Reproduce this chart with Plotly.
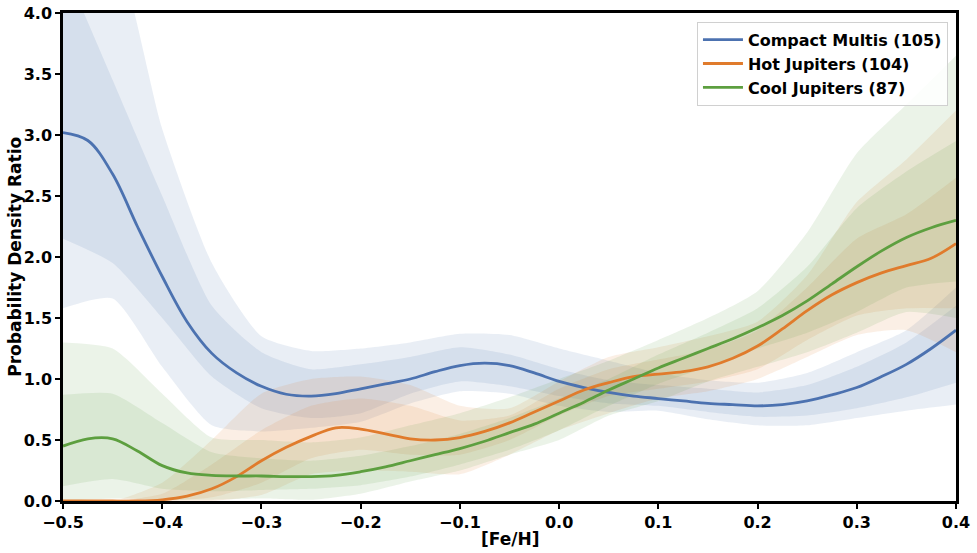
import plotly.graph_objects as go

# ---- data ----
x_line = [round(-0.5 + 0.025 * i, 3) for i in range(37)]
x_band = [round(-0.5 + 0.05 * i, 3) for i in range(19)]

series_names = ["Compact Multis (105)", "Hot Jupiters (104)", "Cool Jupiters (87)"]
series_colors = ["#4c72b0", "#e07b2c", "#5d9f3f"]
series_fills = ["rgba(76,114,176,0.12)", "rgba(224,123,44,0.12)", "rgba(93,159,63,0.12)"]

compact_line = [3.02, 2.955, 2.68, 2.25, 1.84, 1.47, 1.21, 1.05, 0.94, 0.875, 0.86, 0.88, 0.92,
                0.96, 1.00, 1.06, 1.11, 1.13, 1.11, 1.05, 0.98, 0.93, 0.89, 0.86, 0.84, 0.82,
                0.80, 0.79, 0.78, 0.79, 0.82, 0.87, 0.93, 1.02, 1.12, 1.25, 1.40]
hot_line = [0.0, 0.0, 0.0, 0.0, 0.01, 0.04, 0.10, 0.20, 0.33, 0.44, 0.53, 0.60, 0.59, 0.55,
            0.51, 0.50, 0.52, 0.57, 0.64, 0.73, 0.82, 0.91, 0.97, 1.02, 1.04, 1.06, 1.10,
            1.17, 1.27, 1.41, 1.56, 1.69, 1.79, 1.87, 1.93, 1.99, 2.11]
cool_line = [0.45, 0.51, 0.51, 0.41, 0.29, 0.23, 0.21, 0.205, 0.205, 0.20, 0.20, 0.21, 0.24,
             0.28, 0.33, 0.38, 0.43, 0.49, 0.56, 0.63, 0.72, 0.81, 0.91, 1.00, 1.09, 1.17,
             1.25, 1.33, 1.42, 1.52, 1.64, 1.78, 1.92, 2.05, 2.16, 2.24, 2.30]

compact_outer_up = [5.0, 4.6, 3.05, 1.95, 1.35, 1.23, 1.25, 1.30, 1.37, 1.36, 1.25, 1.15,
                    1.05, 0.99, 0.97, 1.05, 1.22, 1.40, 1.75]
compact_inner_up = [4.4, 3.45, 2.50, 1.60, 1.22, 1.08, 1.12, 1.18, 1.26, 1.20, 1.08, 0.99,
                    0.95, 0.92, 0.89, 0.95, 1.10, 1.30, 1.60]
compact_inner_lo = [2.15, 1.95, 1.50, 1.02, 0.76, 0.68, 0.72, 0.88, 0.98, 0.94, 0.86, 0.80,
                    0.78, 0.73, 0.69, 0.70, 0.76, 0.85, 0.97]
compact_outer_lo = [1.58, 1.66, 1.10, 0.62, 0.57, 0.60, 0.65, 0.80, 0.90, 0.88, 0.78, 0.73,
                    0.74, 0.67, 0.62, 0.62, 0.68, 0.74, 0.79]

hot_outer_up = [0.0, 0.0, 0.15, 0.50, 0.88, 1.00, 1.02, 0.95, 0.78, 0.76, 0.98, 1.18,
                1.26, 1.35, 1.47, 1.85, 2.45, 2.80, 3.20]
hot_inner_up = [0.0, 0.0, 0.06, 0.30, 0.58, 0.78, 0.84, 0.78, 0.66, 0.70, 0.92, 1.08,
                1.16, 1.24, 1.40, 1.75, 2.15, 2.35, 2.65]
hot_inner_lo = [0.0, 0.0, 0.0, 0.03, 0.15, 0.35, 0.42, 0.38, 0.38, 0.50, 0.70, 0.86,
                0.92, 0.98, 1.08, 1.32, 1.52, 1.58, 1.58]
hot_outer_lo = [0.0, 0.0, 0.0, 0.0, 0.05, 0.22, 0.25, 0.24, 0.22, 0.38, 0.58, 0.72,
                0.84, 0.90, 1.00, 1.18, 1.36, 1.40, 1.22]

cool_outer_up = [1.30, 1.25, 0.88, 0.52, 0.50, 0.48, 0.52, 0.62, 0.72, 0.85, 1.00, 1.15,
                 1.32, 1.50, 1.72, 2.20, 2.85, 3.25, 3.65]
cool_inner_up = [0.87, 0.88, 0.64, 0.40, 0.35, 0.33, 0.37, 0.45, 0.55, 0.68, 0.84, 1.00,
                 1.20, 1.38, 1.58, 1.92, 2.40, 2.70, 2.95]
cool_inner_lo = [0.12, 0.18, 0.10, 0.08, 0.09, 0.10, 0.13, 0.20, 0.30, 0.42, 0.58, 0.78,
                 0.96, 1.10, 1.25, 1.38, 1.55, 1.75, 1.80]
cool_outer_lo = [0.0, 0.02, 0.01, 0.01, 0.02, 0.01, 0.06, 0.16, 0.25, 0.38, 0.50, 0.70,
                 0.82, 0.98, 1.10, 1.22, 1.38, 1.55, 1.50]

x_tickvals = [-0.5, -0.4, -0.3, -0.2, -0.1, 0.0, 0.1, 0.2, 0.3, 0.4]
x_ticktext = ["\u22120.5", "\u22120.4", "\u22120.3", "\u22120.2", "\u22120.1",
              "0.0", "0.1", "0.2", "0.3", "0.4"]
y_tickvals = [0.0, 0.5, 1.0, 1.5, 2.0, 2.5, 3.0, 3.5, 4.0]
y_ticktext = ["0.0", "0.5", "1.0", "1.5", "2.0", "2.5", "3.0", "3.5", "4.0"]
x_title = "[Fe/H]"
y_title = "Probability Density Ratio"

# ---- figure ----
fig = go.Figure()

bands = [
    (compact_outer_up, compact_outer_lo, compact_inner_up, compact_inner_lo),
    (hot_outer_up, hot_outer_lo, hot_inner_up, hot_inner_lo),
    (cool_outer_up, cool_outer_lo, cool_inner_up, cool_inner_lo),
]
lines = [compact_line, hot_line, cool_line]

for (ou, ol, iu, il), fill in zip(bands, series_fills):
    for up, lo in ((ou, ol), (iu, il)):
        fig.add_trace(go.Scatter(x=x_band, y=up, mode="lines",
                                 line=dict(width=0, shape="spline", smoothing=0.6),
                                 showlegend=False, hoverinfo="skip"))
        fig.add_trace(go.Scatter(x=x_band, y=lo, mode="lines",
                                 line=dict(width=0, shape="spline", smoothing=0.6),
                                 fill="tonexty", fillcolor=fill,
                                 showlegend=False, hoverinfo="skip"))

for name, ys, col in zip(series_names, lines, series_colors):
    fig.add_trace(go.Scatter(x=x_line, y=ys, mode="lines", name=name,
                             line=dict(color=col, width=2.8, shape="spline", smoothing=1.0)))

tick_font = dict(family="DejaVu Sans", size=16, color="black", weight="bold")
title_font = dict(family="DejaVu Sans", size=17, color="black", weight="bold")

fig.update_layout(
    width=977, height=553,
    margin=dict(l=63, r=21, t=13, b=52),
    paper_bgcolor="white", plot_bgcolor="white",
    font=dict(family="DejaVu Sans", size=16, color="black", weight="bold"),
    legend=dict(x=0.991, y=0.982, xanchor="right", yanchor="top", traceorder="normal",
                bgcolor="rgba(255,255,255,0.85)", bordercolor="#d0d0d0", borderwidth=1,
                font=dict(family="DejaVu Sans", size=16, color="black", weight="bold"),
                itemwidth=40),
    xaxis=dict(range=[-0.5, 0.4], tickvals=x_tickvals, ticktext=x_ticktext,
               showgrid=False, zeroline=False, showline=True, mirror=True, automargin=False,
               linecolor="black", linewidth=2.5, ticks="outside", ticklen=5,
               tickwidth=2, tickcolor="black", tickfont=tick_font),
    yaxis=dict(range=[0, 4], tickvals=y_tickvals, ticktext=y_ticktext,
               showgrid=False, zeroline=False, showline=True, mirror=True, automargin=False,
               linecolor="black", linewidth=2.5, ticks="outside", ticklen=5,
               tickwidth=2, tickcolor="black", tickfont=tick_font),
    annotations=[
        dict(text=x_title, xref="paper", yref="paper", x=0.5, y=-0.078,
             xanchor="center", yanchor="middle", showarrow=False, font=title_font),
        dict(text=y_title, xref="paper", yref="paper", x=-0.054, y=0.5, textangle=-90,
             xanchor="center", yanchor="middle", showarrow=False, font=title_font),
    ],
)

fig.write_html("out.html", config={"displayModeBar": False},
               post_script="document.body.style.margin='0px';")
